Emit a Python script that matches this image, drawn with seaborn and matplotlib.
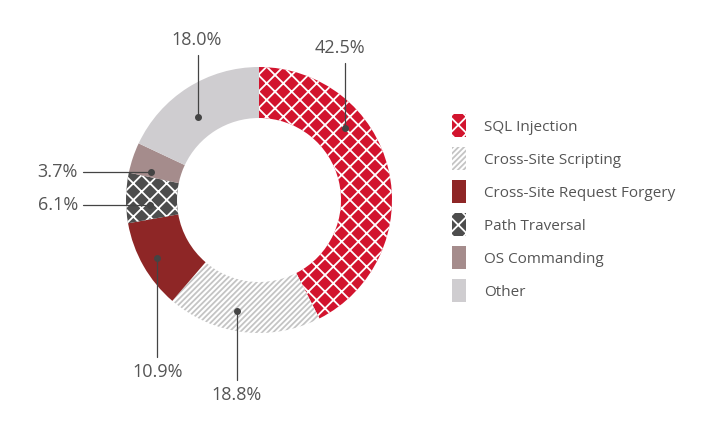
import numpy as np
import seaborn as sns
import matplotlib.pyplot as plt

sns.set_style('white')
plt.rcParams['font.family'] = ['Open Sans', 'DejaVu Sans']
plt.rcParams['hatch.linewidth'] = 1.3

categories = ["SQL Injection", "Cross-Site Scripting", "Cross-Site Request Forgery",
              "Path Traversal", "OS Commanding", "Other"]
shares = [42.5, 18.8, 10.9, 6.1, 3.7, 18.0]
faces = ["#d2142e", "#ffffff", "#8e2626", "#4d4d4d", "#a58c8c", "#cfcdd0"]
hatch_cols = ["#ffffff", "#c4c4c4", None, "#ffffff", None, None]
hatches = ["xx", "//////", None, "xx", None, None]

# label text position, dot position (pixel coords, y down)
label_pos = [(340, 48), (237, 395), (158, 372), (30, 205), (30, 172), (197, 40)]
dot_pos = [(345, 128), (237, 311), (157, 258), (150, 205), (151, 172), (198, 117)]

W, H = 724, 428
fig = plt.figure(figsize=(W / 100, H / 100), dpi=100)
ax = fig.add_axes([0, 0, 1, 1])

cx, cy, r_out = 259, H - 200, 133
wedges, _ = ax.pie(shares, center=(cx, cy), radius=r_out, startangle=90,
                   counterclock=False, colors=faces,
                   wedgeprops=dict(width=r_out - 82, linewidth=0))
for w, hc, h in zip(wedges, hatch_cols, hatches):
    if h:
        w.set_hatch(h)
        w.set_edgecolor(hc)

ax.set_xlim(0, W)
ax.set_ylim(0, H)
ax.set_aspect('equal')
ax.axis('off')

txt = "#555555"
for (lx, ly), (dx, dy), v in zip(label_pos, dot_pos, shares):
    s = f"{v:.1f}%"
    if lx < 100:
        ax.text(lx + 48, H - ly, s, ha='right', va='center', fontsize=13, color=txt)
        ax.plot([lx + 53, dx], [H - ly, H - dy], color="#444444", lw=0.9)
    else:
        above = ly < dy
        ax.text(lx, H - ly, s, ha='center', va='center', fontsize=13, color=txt)
        end = ly + 15 if above else ly - 15
        ax.plot([dx, dx], [H - end, H - dy], color="#444444", lw=0.9)
    ax.plot(dx, H - dy, 'o', color="#444444", ms=4)

ax.legend(wedges, categories, loc='upper left', bbox_to_anchor=(0.605, 0.765),
          frameon=False, fontsize=11, labelcolor=txt, handlelength=0.9,
          handleheight=1.9, labelspacing=0.68, handletextpad=1.2)

fig.savefig("out.png", dpi=100)
